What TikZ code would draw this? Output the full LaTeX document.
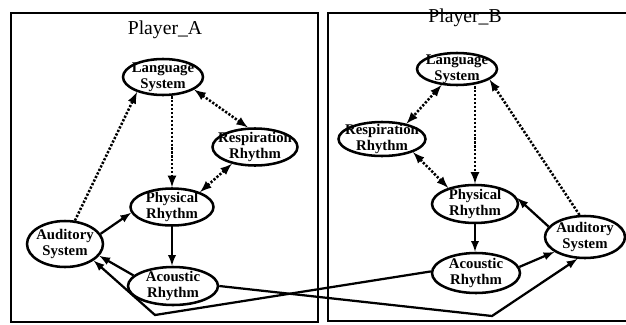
\documentclass[tikz,border=0pt]{standalone}
\usepackage{fontspec}
\setmainfont{Liberation Serif}
\usetikzlibrary{shapes.geometric}

\tikzset{
  unit/.style={draw, ellipse, line width=1.8pt, inner sep=-15pt, align=center,
    font=\fontsize{10.5}{11.5}\selectfont\bfseries},
  dotlink/.style={line width=1.8pt, dash pattern=on 1.6pt off 1.2pt},
  link/.style={line width=1.6pt},
  title/.style={font=\fontsize{14}{16}\selectfont},
}

\begin{document}
\begin{tikzpicture}[>=latex]
 \useasboundingbox (0,0) rectangle (15.65,8.1);

 %frames
 \draw[thick] (0.275,0.05) rectangle (7.95,7.775);
 \draw[thick] (15.65,7.775) -| (8.2,0.075) -- (15.65,0.075);

 \node[title] (titleA) at (4.125,7.35) {Player\_A};
 \node[title] (titleB) at (11.625,7.65) {Player\_B};

 %player A
 \node[unit, minimum width=2cm, minimum height=0.9cm] (LangA) at (4.075,6.175) {Language\\System};
 \node[unit, minimum width=2.125cm, minimum height=0.925cm] (RespA) at (6.375,4.425) {Respiration\\Rhythm};
 \node[unit, minimum width=2.075cm, minimum height=0.925cm] (PhysA) at (4.3,2.925) {Physical\\Rhythm};
 \node[unit, minimum width=1.9cm, minimum height=1.15cm] (AudA) at (1.625,2.0) {Auditory\\System};
 \node[unit, minimum width=2.25cm, minimum height=0.95cm] (AcouA) at (4.325,0.95) {Acoustic\\Rhythm};

 %player B
 \node[unit, minimum width=2cm, minimum height=0.8cm] (LangB) at (11.425,6.375) {Language\\System};
 \node[unit, minimum width=2.175cm, minimum height=0.85cm] (RespB) at (9.55,4.625) {Respiration\\Rhythm};
 \node[unit, minimum width=2.15cm, minimum height=0.95cm] (PhysB) at (11.875,3.0) {Physical\\Rhythm};
 \node[unit, minimum width=2cm, minimum height=1.05cm] (AudB) at (14.625,2.175) {Auditory\\System};
 \node[unit, minimum width=2.2cm, minimum height=1.0cm] (AcouB) at (11.9,1.275) {Acoustic\\Rhythm};

 %bends of the crossing lines
 \coordinate (bendA) at (3.875,0.225);
 \coordinate (bendB) at (12.3,0.2);

 %arrows A
 \draw[dotlink,<->] (LangA.-22) -- (RespA.110);
 \draw[dotlink,->] (PhysA.north |- LangA.south) -- (PhysA.north);
 \draw[dotlink,->] (AudA.67) -- (LangA.210);
 \draw[dotlink,<->] (RespA.216) -- (PhysA.28);
 \draw[link,->] (AudA.16) -- (PhysA.188);
 \draw[link,->] (PhysA.south) -- (PhysA.south |- AcouA.north);
 \draw[link,->] (AcouA.165) -- (AudA.-19);

 %arrows B
 \draw[dotlink,<->] (LangB.226) -- (RespB.32);
 \draw[dotlink,->] (PhysB.north |- LangB.south) -- (PhysB.north);
 \draw[dotlink,->] (AudB.104) -- (LangB.-18);
 \draw[dotlink,<->] (RespB.-23) -- (PhysB.149);
 \draw[link,->] (AudB.164) -- (PhysB.8);
 \draw[link,->] (PhysB.south) -- (PhysB.south |- AcouB.north);
 \draw[link,->] (AcouB.8) -- (AudB.206);

 %crossing
 \draw[link,->] (AcouA.0) -- (bendB) -- (AudB.251);
 \draw[link,->] (AcouB.178) -- (bendA) -- (AudA.-30);

\end{tikzpicture}
\end{document}
